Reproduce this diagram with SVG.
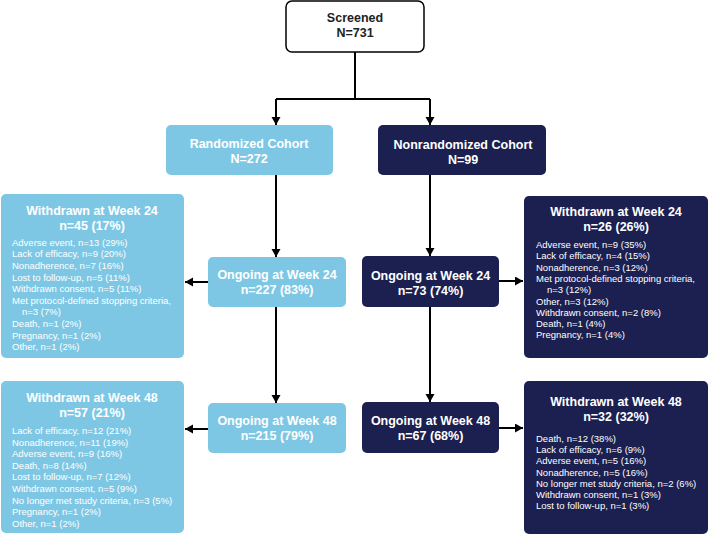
<svg xmlns="http://www.w3.org/2000/svg" width="709" height="535" viewBox="0 0 709 535">
<defs>
<marker id="ah" markerUnits="userSpaceOnUse" markerWidth="10" markerHeight="10" refX="8" refY="4.5" orient="auto">
<path d="M0,0 L8,4.5 L0,9 Z" fill="#000"/>
</marker>
<style>
.lb{fill:#7EC7E4}
.nv{fill:#1C2050}
.t{font-family:"Liberation Sans",Arial,sans-serif;font-weight:bold;font-size:12.5px;fill:#fff;text-anchor:middle}
.b{font-family:"Liberation Sans",Arial,sans-serif;font-size:9.5px;fill:#fff}
.c{fill:none;stroke:#000;stroke-width:2}
</style>
</defs>
<rect width="709" height="535" fill="#fff"/>
<g id="connectors">
<path class="c" d="M355,52 V99 M276,99 H430"/>
<path class="c" d="M276,99 V125" marker-end="url(#ah)"/>
<path class="c" d="M430,99 V125" marker-end="url(#ah)"/>
<path class="c" d="M276,175 V257" marker-end="url(#ah)"/>
<path class="c" d="M430,175 V256" marker-end="url(#ah)"/>
<path class="c" d="M276,307 V403" marker-end="url(#ah)"/>
<path class="c" d="M430,307 V402" marker-end="url(#ah)"/>
<path class="c" d="M208,282 H185" marker-end="url(#ah)"/>
<path class="c" d="M499,281 H523" marker-end="url(#ah)"/>
<path class="c" d="M208,429 H185" marker-end="url(#ah)"/>
<path class="c" d="M499,428 H523" marker-end="url(#ah)"/>
</g>
<g id="screened">
<rect x="286" y="1" width="138" height="51" rx="6" fill="#fff" stroke="#000" stroke-width="1.5"/>
<text class="t" x="355" y="22" style="fill:#222">Screened</text>
<text class="t" x="355" y="37" style="fill:#222">N=731</text>
</g>
<g id="randomized">
<rect class="lb" x="166" y="125" width="167" height="50" rx="5"/>
<text class="t" x="249" y="148">Randomized Cohort</text>
<text class="t" x="249" y="163">N=272</text>
</g>
<g id="nonrandomized">
<rect class="nv" x="378" y="125" width="168" height="50" rx="5"/>
<text class="t" x="463" y="149">Nonrandomized Cohort</text>
<text class="t" x="463" y="164">N=99</text>
</g>
<g id="rand-ongoing-24">
<rect class="lb" x="208" y="257" width="138" height="50" rx="5"/>
<text class="t" x="277" y="279">Ongoing at Week 24</text>
<text class="t" x="277" y="294">n=227 (83%)</text>
</g>
<g id="nonrand-ongoing-24">
<rect class="nv" x="362" y="256" width="137" height="51" rx="5"/>
<text class="t" x="430.5" y="280">Ongoing at Week 24</text>
<text class="t" x="430.5" y="295">n=73 (74%)</text>
</g>
<g id="rand-ongoing-48">
<rect class="lb" x="208" y="403" width="138" height="50" rx="5"/>
<text class="t" x="277" y="425">Ongoing at Week 48</text>
<text class="t" x="277" y="440">n=215 (79%)</text>
</g>
<g id="nonrand-ongoing-48">
<rect class="nv" x="362" y="402" width="137" height="51" rx="5"/>
<text class="t" x="430.5" y="425">Ongoing at Week 48</text>
<text class="t" x="430.5" y="440">n=67 (68%)</text>
</g>
<g id="rand-withdrawn-24">
<rect class="lb" x="1" y="194" width="183" height="164" rx="5"/>
<text class="t" x="92" y="214.5">Withdrawn at Week 24</text>
<text class="t" x="92" y="229.5">n=45 (17%)</text>
<text class="b" x="12" y="245.8">Adverse event, n=13 (29%)</text>
<text class="b" x="12" y="257.4">Lack of efficacy, n=9 (20%)</text>
<text class="b" x="12" y="269">Nonadherence, n=7 (16%)</text>
<text class="b" x="12" y="280.6">Lost to follow-up, n=5 (11%)</text>
<text class="b" x="12" y="292.2">Withdrawn consent, n=5 (11%)</text>
<text class="b" x="12" y="303.8">Met protocol-defined stopping criteria,</text>
<text class="b" x="22" y="315.4">n=3 (7%)</text>
<text class="b" x="12" y="327">Death, n=1 (2%)</text>
<text class="b" x="12" y="338.6">Pregnancy, n=1 (2%)</text>
<text class="b" x="12" y="350.2">Other, n=1 (2%)</text>
</g>
<g id="rand-withdrawn-48">
<rect class="lb" x="1" y="381" width="183" height="152" rx="5"/>
<text class="t" x="92" y="402">Withdrawn at Week 48</text>
<text class="t" x="92" y="417">n=57 (21%)</text>
<text class="b" x="12" y="434">Lack of efficacy, n=12 (21%)</text>
<text class="b" x="12" y="445.6">Nonadherence, n=11 (19%)</text>
<text class="b" x="12" y="457.2">Adverse event, n=9 (16%)</text>
<text class="b" x="12" y="468.8">Death, n=8 (14%)</text>
<text class="b" x="12" y="480.4">Lost to follow-up, n=7 (12%)</text>
<text class="b" x="12" y="492">Withdrawn consent, n=5 (9%)</text>
<text class="b" x="12" y="503.6">No longer met study criteria, n=3 (5%)</text>
<text class="b" x="12" y="515.2">Pregnancy, n=1 (2%)</text>
<text class="b" x="12" y="526.8">Other, n=1 (2%)</text>
</g>
<g id="nonrand-withdrawn-24">
<rect class="nv" x="524" y="196" width="184" height="162" rx="5"/>
<text class="t" x="616" y="216">Withdrawn at Week 24</text>
<text class="t" x="616" y="231">n=26 (26%)</text>
<text class="b" x="536" y="248">Adverse event, n=9 (35%)</text>
<text class="b" x="536" y="259.3">Lack of efficacy, n=4 (15%)</text>
<text class="b" x="536" y="270.6">Nonadherence, n=3 (12%)</text>
<text class="b" x="536" y="281.9">Met protocol-defined stopping criteria,</text>
<text class="b" x="547" y="293.2">n=3 (12%)</text>
<text class="b" x="536" y="304.5">Other, n=3 (12%)</text>
<text class="b" x="536" y="315.8">Withdrawn consent, n=2 (8%)</text>
<text class="b" x="536" y="327.1">Death, n=1 (4%)</text>
<text class="b" x="536" y="338.4">Pregnancy, n=1 (4%)</text>
</g>
<g id="nonrand-withdrawn-48">
<rect class="nv" x="524" y="381" width="184" height="153" rx="5"/>
<text class="t" x="616" y="406">Withdrawn at Week 48</text>
<text class="t" x="616" y="421">n=32 (32%)</text>
<text class="b" x="536" y="442">Death, n=12 (38%)</text>
<text class="b" x="536" y="453.2">Lack of efficacy, n=6 (9%)</text>
<text class="b" x="536" y="464.4">Adverse event, n=5 (16%)</text>
<text class="b" x="536" y="475.6">Nonadherence, n=5 (16%)</text>
<text class="b" x="536" y="486.8">No longer met study criteria, n=2 (6%)</text>
<text class="b" x="536" y="498">Withdrawn consent, n=1 (3%)</text>
<text class="b" x="536" y="509.2">Lost to follow-up, n=1 (3%)</text>
</g>
</svg>
